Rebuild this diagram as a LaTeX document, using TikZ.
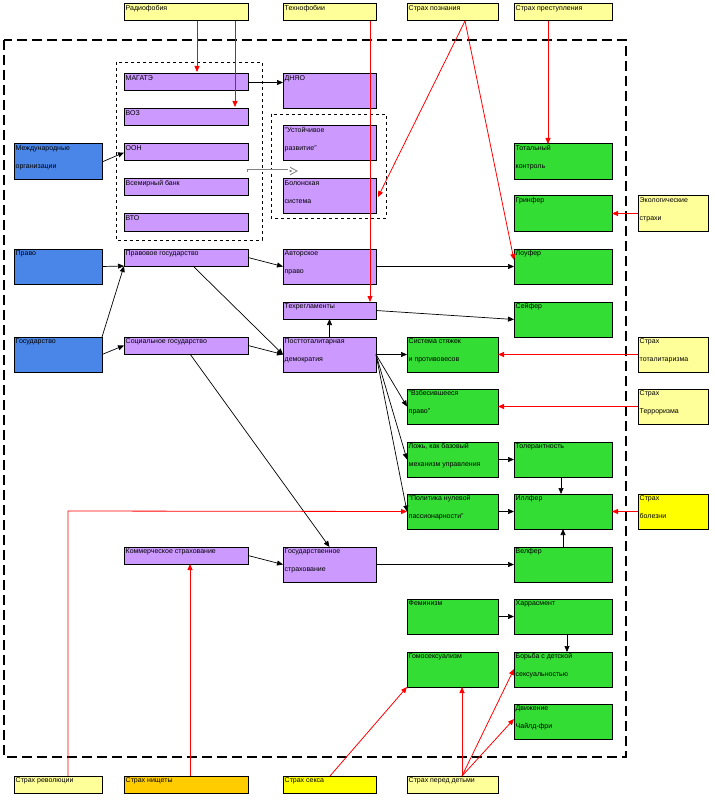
\documentclass[tikz,border=0pt]{standalone}
\usepackage{fontspec}
\setmainfont{Liberation Sans}
\usetikzlibrary{arrows.meta}
\definecolor{pur}{HTML}{CC99FF}
\definecolor{grn}{HTML}{33DD33}
\definecolor{blu}{HTML}{4A86E8}
\definecolor{ylw}{HTML}{FFFF99}
\definecolor{ybr}{HTML}{FFFF00}
\definecolor{org}{HTML}{FFCC00}
\newcommand{\bx}[7]{\node[box,fill=#6,minimum width=#4-#2,minimum height=#5-#3,
  label={[lab]north west:#7}] (#1) at ({(#2+#4)/2},{(#3+#5)/2}) {};}
\begin{document}
\begin{tikzpicture}[x=1pt,y=-1pt,
  box/.style={draw=black,line width=1pt,inner sep=0pt,outer sep=0pt},
  lab/.style={anchor=north west,inner sep=1.5pt,align=left,font=\fontsize{7}{17.5}\selectfont},
  blk/.style={-{Triangle[length=6pt,width=5pt]},line width=0.7pt},
  red/.style={-{Triangle[length=6pt,width=5pt]},draw=red,line width=0.8pt}]
\useasboundingbox (0,0) rectangle (714,802);
\draw[line width=2.5pt,dash pattern=on 10pt off 5pt] (4,40) rectangle (626,757);
\draw[dashed,line width=0.5pt] (116,62) rectangle (262,240);
\draw[dashed,line width=0.5pt] (271,114) rectangle (386,218);
% top
\bx{rad}{124}{4}{248}{21}{ylw}{Радиофобия}
\bx{tech}{283}{4}{376}{21}{ylw}{Технофобии}
\bx{pozn}{407}{4}{498}{21}{ylw}{Страх познания}
\bx{prest}{514}{4}{612}{21}{ylw}{Страх преступления}
% left
\bx{mo}{14}{144}{102}{180}{blu}{Международные\\организации}
\bx{pravo}{14}{249}{102}{284}{blu}{Право}
\bx{gos}{14}{337}{102}{372}{blu}{Государство}
% purple
\bx{magate}{124}{74}{248}{91}{pur}{МАГАТЭ}
\bx{voz}{124}{109}{248}{126}{pur}{ВОЗ}
\bx{oon}{124}{144}{248}{161}{pur}{ООН}
\bx{vb}{124}{179}{248}{196}{pur}{Всемирный банк}
\bx{vto}{124}{214}{248}{231}{pur}{ВТО}
\bx{dnyao}{283}{74}{376}{109}{pur}{ДНЯО}
\bx{ust}{283}{126}{376}{161}{pur}{"Устойчивое\\развитие"}
\bx{bol}{283}{179}{376}{214}{pur}{Болонская\\система}
\bx{pg}{124}{249}{248}{266}{pur}{Правовое государство}
\bx{avt}{283}{249}{376}{284}{pur}{Авторское\\право}
\bx{treg}{283}{302}{376}{319}{pur}{Техрегламенты}
\bx{sg}{124}{337}{248}{354}{pur}{Социальное государство}
\bx{ptd}{283}{337}{376}{372}{pur}{Посттоталитарная\\демократия}
\bx{kom}{124}{547}{248}{564}{pur}{Коммерческое страхование}
\bx{gstr}{283}{547}{376}{582}{pur}{Государственное\\страхование}
% green
\bx{tot}{514}{144}{612}{180}{grn}{Тотальный\\контроль}
\bx{grin}{514}{196}{612}{231}{grn}{Гринфер}
\bx{lou}{514}{249}{612}{284}{grn}{Лоуфер}
\bx{seif}{514}{302}{612}{337}{grn}{Сейфер}
\bx{sist}{407}{337}{498}{372}{grn}{Система стяжек\\и противовесов}
\bx{vzb}{407}{389}{498}{424}{grn}{"Взбесившееся\\право"}
\bx{lozh}{407}{442}{498}{477}{grn}{Ложь, как базовый\\механизм управления}
\bx{tol}{514}{442}{612}{477}{grn}{Толерантность}
\bx{pol}{407}{494}{498}{529}{grn}{"Политика нулевой\\пассионарности"}
\bx{ill}{514}{494}{612}{529}{grn}{Иллфер}
\bx{vel}{514}{547}{612}{582}{grn}{Велфер}
\bx{fem}{407}{599}{498}{634}{grn}{Феминизм}
\bx{har}{514}{599}{612}{634}{grn}{Харрасмент}
\bx{gom}{407}{652}{498}{687}{grn}{Гомосексуализм}
\bx{bor}{514}{652}{612}{687}{grn}{Борьба с детской\\сексуальностью}
\bx{dv}{514}{704}{612}{739}{grn}{Движение\\Чайлд-фри}
% right
\bx{eko}{638}{196}{708}{231}{ylw}{Экологические\\страхи}
\bx{stot}{638}{337}{708}{372}{ylw}{Страх\\тоталитаризма}
\bx{ster}{638}{389}{708}{424}{ylw}{Страх\\Терроризма}
\bx{sbol}{638}{494}{708}{529}{ybr}{Страх\\болезни}
% bottom
\bx{srev}{14}{776}{102}{793}{ylw}{Страх революции}
\bx{snish}{124}{776}{248}{793}{org}{Страх нищеты}
\bx{ssex}{283}{776}{376}{793}{ybr}{Страх секса}
\bx{sdet}{407}{776}{498}{793}{ylw}{Страх перед детьми}
% hollow arrow
\draw[-{Triangle[open,length=8pt,width=8pt]},line width=3pt,draw=gray] (247,171) -- (298,171);
\draw[-{Triangle[open,length=8pt,width=8pt]},line width=1.6pt,draw=white] (248,171) -- (296,171);
% black
\draw[blk] (mo.east) -- (oon.west);
\draw[blk] (pravo.east) -- (pg.south west);
\draw[blk] (gos.north east) -- (pg.south west);
\draw[blk] (gos.east) -- (sg.west);
\draw[blk] (magate.east) -- (dnyao.west |- magate.east);
\draw[blk] (pg.east) -- (avt.west);
\draw[blk] (193,266) -- (ptd.west);
\draw[blk] (sg.east) -- (ptd.west);
\draw[blk] (190,354) -- (gstr.north);
\draw[blk] (ptd.north) -- (treg.south);
\draw[blk] (avt.east) -- (lou.west);
\draw[blk] (treg.east) -- (seif.west);
\draw[blk] (ptd.east) -- (sist.west);
\draw[blk] (ptd.east) -- (vzb.west);
\draw[blk] (ptd.east) -- (lozh.west);
\draw[blk] (ptd.east) -- (pol.west);
\draw[blk] (lozh.east) -- (tol.west);
\draw[blk] (tol.south) ++(-2,0) coordinate (t1) -- (t1 |- ill.north);
\draw[blk] (pol.east) -- (ill.west);
\draw[blk] (vel.north) -- (ill.south);
\draw[blk] (kom.east) -- (gstr.west);
\draw[blk] (gstr.east) -- (vel.west);
\draw[blk] (fem.east) -- (har.west);
\draw[blk] (567,634) -- (567,652);
% red
\draw[red] (197,21) -- (197,72);
\draw[red] (235,21) -- (235,107);
\draw[red] (370,21) -- (370,302);
\draw[red] (465,21) -- (378,197);
\draw[red] (465,21) -- (514,260);
\draw[red] (prest.south) ++(-15,0) coordinate (p1) -- (p1 |- tot.north);
\draw[red] (eko.west) -- (grin.east);
\draw[red] (stot.west) -- (sist.east);
\draw[red] (ster.west) -- (vzb.east);
\draw[red] (sbol.west) -- (ill.east);
\draw[red] (68,776) -- (68,511) -- (pol.west);
\draw[red] (190,776) -- (190,564);
\draw[red] (330,776) -- (gom.south west);
\draw[red] (462,776) -- (462,687);
\draw[red] (462,776) -- (514,669);
\draw[red] (462,776) -- (514,719);
\end{tikzpicture}
\end{document}
